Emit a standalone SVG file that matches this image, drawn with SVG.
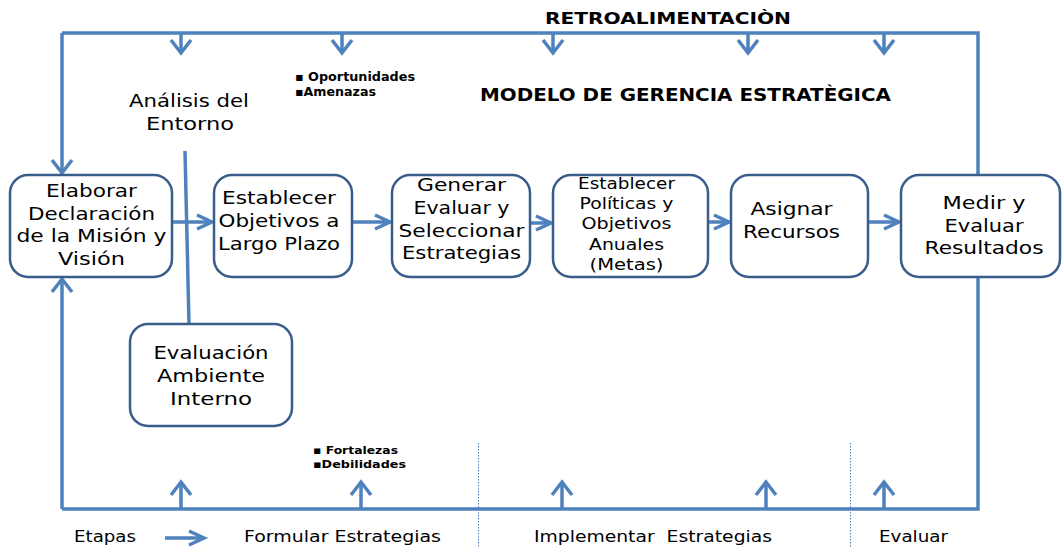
<svg xmlns="http://www.w3.org/2000/svg" width="1062" height="548" viewBox="0 0 1062 548">
<defs>
<style>
.ln{fill:none;stroke:#4F81BD;stroke-width:3.5}
.mk{fill:none;stroke:#4F81BD;stroke-width:3.5}
.box{fill:#fff;stroke:#385D8A;stroke-width:2.5}
.t{font-family:"DejaVu Sans",sans-serif;font-size:17px;fill:#000;text-anchor:middle}
.t4{font-size:15px}
.b{font-family:"DejaVu Sans",sans-serif;font-weight:bold;fill:#000}
.lab{font-family:"DejaVu Sans",sans-serif;font-size:16px;fill:#000}
.dot{stroke:#4F81BD;stroke-width:1;stroke-dasharray:1.5 1.5;fill:none}
</style>
<marker id="ah" markerUnits="userSpaceOnUse" markerWidth="20" markerHeight="18" viewBox="0 0 20 18" refX="16" refY="9" orient="auto" overflow="visible">
<path class="mk" d="M1,2 L16,9 L1,16"/>
</marker>
<marker id="av" markerUnits="userSpaceOnUse" markerWidth="16" markerHeight="24" viewBox="0 0 16 24" refX="14" refY="12" orient="auto" overflow="visible">
<path class="mk" d="M1,2 L14,12 L1,22"/>
</marker>
</defs>
<rect width="1062" height="548" fill="#fff"/>
<g id="connectors">
<path class="ln" d="M62,33 H978 V509 H62"/>
<path class="ln" d="M62,33 V173" marker-end="url(#av)"/>
<path class="ln" d="M62,509 V279" marker-end="url(#av)"/>
<path class="ln" d="M181,33 V53" marker-end="url(#av)"/>
<path class="ln" d="M342,33 V53" marker-end="url(#av)"/>
<path class="ln" d="M553,33 V53" marker-end="url(#av)"/>
<path class="ln" d="M748,33 V53" marker-end="url(#av)"/>
<path class="ln" d="M884,33 V53" marker-end="url(#av)"/>
<path class="ln" d="M181,509 V482" marker-end="url(#av)"/>
<path class="ln" d="M361,509 V482" marker-end="url(#av)"/>
<path class="ln" d="M562,509 V482" marker-end="url(#av)"/>
<path class="ln" d="M766,509 V482" marker-end="url(#av)"/>
<path class="ln" d="M884,509 V482" marker-end="url(#av)"/>
<path class="ln" d="M185,151 L189,324"/>
<path class="ln" d="M172,222 H212" marker-end="url(#ah)"/>
<path class="ln" d="M352,222 H390" marker-end="url(#ah)"/>
<path class="ln" d="M530,223 H551" marker-end="url(#ah)"/>
<path class="ln" d="M708,222 H729" marker-end="url(#ah)"/>
<path class="ln" d="M868,222 H899" marker-end="url(#ah)"/>
<path class="ln" d="M165,538 H204" marker-end="url(#ah)"/>
<path class="dot" d="M478.5,443 V548"/>
<path class="dot" d="M850.5,443 V548"/>
</g>
<g id="n1">
<rect class="box" x="10" y="175" width="162" height="102" rx="18"/>
<text class="t" x="91.5" y="197" textLength="91" lengthAdjust="spacingAndGlyphs">Elaborar</text>
<text class="t" x="91.5" y="220" textLength="127" lengthAdjust="spacingAndGlyphs">Declaración</text>
<text class="t" x="91.5" y="242" textLength="150" lengthAdjust="spacingAndGlyphs">de la Misión y</text>
<text class="t" x="91.5" y="265" textLength="67" lengthAdjust="spacingAndGlyphs">Visión</text>
</g>
<g id="n2">
<rect class="box" x="214" y="175" width="138" height="102" rx="18"/>
<text class="t" x="279" y="204" textLength="114" lengthAdjust="spacingAndGlyphs">Establecer</text>
<text class="t" x="279" y="227" textLength="121" lengthAdjust="spacingAndGlyphs">Objetivos a</text>
<text class="t" x="279" y="250" textLength="122" lengthAdjust="spacingAndGlyphs">Largo Plazo</text>
</g>
<g id="n3">
<rect class="box" x="392" y="175" width="138" height="102" rx="18"/>
<text class="t" x="461.5" y="191" textLength="89" lengthAdjust="spacingAndGlyphs">Generar</text>
<text class="t" x="461.5" y="214" textLength="96" lengthAdjust="spacingAndGlyphs">Evaluar y</text>
<text class="t" x="461.5" y="237" textLength="126" lengthAdjust="spacingAndGlyphs">Seleccionar</text>
<text class="t" x="461.5" y="259" textLength="119" lengthAdjust="spacingAndGlyphs">Estrategias</text>
</g>
<g id="n4">
<rect class="box" x="553" y="175" width="155" height="102" rx="18"/>
<text class="t t4" x="626.5" y="189" textLength="97" lengthAdjust="spacingAndGlyphs">Establecer</text>
<text class="t t4" x="626.5" y="209" textLength="94" lengthAdjust="spacingAndGlyphs">Políticas y</text>
<text class="t t4" x="626.5" y="229" textLength="90" lengthAdjust="spacingAndGlyphs">Objetivos</text>
<text class="t t4" x="626.5" y="250" textLength="75" lengthAdjust="spacingAndGlyphs">Anuales</text>
<text class="t t4" x="626.5" y="270" textLength="74" lengthAdjust="spacingAndGlyphs">(Metas)</text>
</g>
<g id="n5">
<rect class="box" x="731" y="175" width="137" height="102" rx="18"/>
<text class="t" x="791.5" y="215" textLength="82" lengthAdjust="spacingAndGlyphs">Asignar</text>
<text class="t" x="791.5" y="238" textLength="97" lengthAdjust="spacingAndGlyphs">Recursos</text>
</g>
<g id="n6">
<rect class="box" x="901" y="175" width="159" height="102" rx="18"/>
<text class="t" x="984" y="209" textLength="83" lengthAdjust="spacingAndGlyphs">Medir y</text>
<text class="t" x="984" y="232" textLength="79" lengthAdjust="spacingAndGlyphs">Evaluar</text>
<text class="t" x="984" y="254" textLength="119" lengthAdjust="spacingAndGlyphs">Resultados</text>
</g>
<g id="n7">
<rect class="box" x="130" y="324" width="162" height="102" rx="18"/>
<text class="t" x="211" y="359" textLength="115" lengthAdjust="spacingAndGlyphs">Evaluación</text>
<text class="t" x="211" y="382" textLength="108" lengthAdjust="spacingAndGlyphs">Ambiente</text>
<text class="t" x="211" y="405" textLength="82" lengthAdjust="spacingAndGlyphs">Interno</text>
</g>
<g id="entorno">
<text class="t" x="189" y="107" textLength="120" lengthAdjust="spacingAndGlyphs">Análisis del</text>
<text class="t" x="190" y="130" textLength="88" lengthAdjust="spacingAndGlyphs">Entorno</text>
</g>
<g id="labels">
<text class="b" x="545" y="24" font-size="16" textLength="246" lengthAdjust="spacingAndGlyphs">RETROALIMENTACIÒN</text>
<text class="b" x="480" y="101" font-size="17" textLength="411" lengthAdjust="spacingAndGlyphs">MODELO DE GERENCIA ESTRATÈGICA</text>
<text class="b" x="295" y="81" font-size="12" textLength="120" lengthAdjust="spacingAndGlyphs">▪ Oportunidades</text>
<text class="b" x="295" y="96" font-size="12" textLength="81" lengthAdjust="spacingAndGlyphs">▪Amenazas</text>
<text class="b" x="313" y="454" font-size="11" textLength="85" lengthAdjust="spacingAndGlyphs">▪ Fortalezas</text>
<text class="b" x="313" y="468" font-size="11" textLength="93" lengthAdjust="spacingAndGlyphs">▪Debilidades</text>
<text class="lab" x="74" y="542" textLength="62" lengthAdjust="spacingAndGlyphs">Etapas</text>
<text class="lab" x="244" y="542" textLength="197" lengthAdjust="spacingAndGlyphs">Formular Estrategias</text>
<text class="lab" x="534" y="542" textLength="238" lengthAdjust="spacingAndGlyphs" xml:space="preserve">Implementar  Estrategias</text>
<text class="lab" x="879" y="542" textLength="69" lengthAdjust="spacingAndGlyphs">Evaluar</text>
</g>
</svg>
